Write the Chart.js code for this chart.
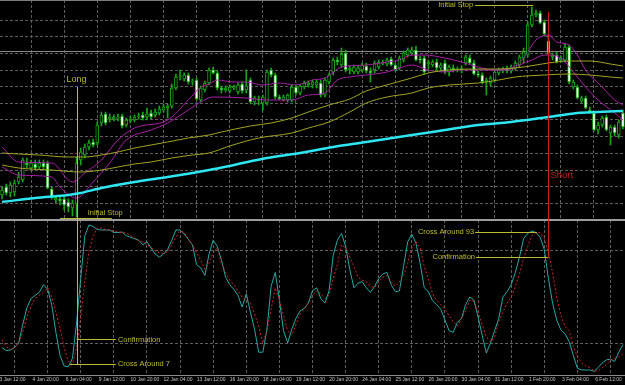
<!DOCTYPE html>
<html>
<head>
<meta charset="utf-8">
<script src="https://cdn.jsdelivr.net/npm/chart.js@4.4.1/dist/chart.umd.min.js"></script>
<style>
  html, body { margin: 0; padding: 0; background: #000; overflow: hidden; }
  #wrap { position: relative; width: 625px; height: 385px; }
  canvas { position: absolute; left: 0; }
  #price { top: 0; }
  #stoch { top: 220px; }
</style>
</head>
<body>
<div id="wrap">
  <canvas id="price" width="625" height="220"></canvas>
  <canvas id="stoch" width="625" height="165"></canvas>
</div>
<script>
// H4 bars, index 0 = first visible bar on the left
const timeLabels = ["3 Jan 12:00", "4 Jan 20:00", "6 Jan 04:00", "9 Jan 12:00", "10 Jan 20:00",
  "12 Jan 04:00", "13 Jan 12:00", "16 Jan 20:00", "18 Jan 04:00", "19 Jan 12:00", "20 Jan 20:00",
  "24 Jan 04:00", "25 Jan 12:00", "26 Jan 20:00", "30 Jan 04:00", "31 Jan 12:00", "1 Feb 20:00",
  "3 Feb 04:00", "6 Feb 12:00"];
const labelBars = [3, 11, 19, 27, 35, 43, 51, 59, 67, 75, 83, 91, 99, 107, 115, 123, 131, 139, 147];
const priceGrid = [1.2850, 1.2900, 1.2950, 1.3000, 1.3050, 1.3100, 1.3150, 1.3200, 1.3250, 1.3300, 1.3350, 1.3400];

const openP = [1.2875,1.2899,1.2881,1.2884,1.2914,1.2920,1.2971,1.2956,1.2968,1.2959,
  1.2971,1.2971,1.2893,1.2860,1.2863,1.2863,1.2854,1.2836,1.2848,1.2980,
  1.2995,1.3019,1.3034,1.3031,1.3091,1.3118,1.3103,1.3103,1.3106,1.3112,
  1.3085,1.3097,1.3100,1.3109,1.3115,1.3109,1.3121,1.3115,1.3121,1.3130,
  1.3136,1.3142,1.3196,1.3229,1.3223,1.3235,1.3214,1.3220,1.3160,1.3190,
  1.3211,1.3250,1.3241,1.3196,1.3190,1.3187,1.3196,1.3184,1.3208,1.3190,
  1.3220,1.3154,1.3163,1.3151,1.3151,1.3250,1.3235,1.3169,1.3160,1.3160,
  1.3160,1.3199,1.3181,1.3199,1.3205,1.3205,1.3205,1.3211,1.3175,1.3214,
  1.3244,1.3280,1.3265,1.3301,1.3250,1.3244,1.3244,1.3250,1.3262,1.3247,
  1.3250,1.3259,1.3271,1.3268,1.3283,1.3265,1.3256,1.3280,1.3295,1.3301,
  1.3310,1.3283,1.3286,1.3268,1.3265,1.3274,1.3256,1.3271,1.3244,1.3256,
  1.3250,1.3247,1.3271,1.3286,1.3271,1.3238,1.3235,1.3214,1.3211,1.3220,
  1.3241,1.3247,1.3256,1.3247,1.3256,1.3265,1.3286,1.3295,1.3385,1.3415,
  1.3421,1.3394,1.3337,1.3289,1.3295,1.3280,1.3280,1.3319,1.3199,1.3199,
  1.3157,1.3166,1.3130,1.3121,1.3070,1.3085,1.3109,1.3061,1.3079,1.3055,
  1.3121];
const highP = [1.2899,1.2908,1.2914,1.2920,1.2944,1.2986,1.2986,1.2980,1.2980,1.2980,
  1.2980,1.2977,1.2899,1.2872,1.2872,1.2869,1.2863,1.2860,1.2989,1.3016,
  1.3028,1.3040,1.3043,1.3094,1.3124,1.3124,1.3118,1.3115,1.3118,1.3118,
  1.3106,1.3112,1.3115,1.3121,1.3124,1.3136,1.3130,1.3133,1.3142,1.3148,
  1.3148,1.3208,1.3238,1.3250,1.3241,1.3241,1.3223,1.3226,1.3202,1.3217,
  1.3256,1.3259,1.3247,1.3202,1.3202,1.3205,1.3205,1.3211,1.3214,1.3250,
  1.3226,1.3172,1.3172,1.3175,1.3250,1.3256,1.3241,1.3175,1.3175,1.3178,
  1.3205,1.3205,1.3208,1.3217,1.3217,1.3220,1.3220,1.3220,1.3226,1.3241,
  1.3286,1.3289,1.3316,1.3310,1.3262,1.3265,1.3262,1.3271,1.3271,1.3256,
  1.3277,1.3280,1.3280,1.3286,1.3289,1.3271,1.3292,1.3307,1.3316,1.3319,
  1.3322,1.3292,1.3292,1.3280,1.3280,1.3283,1.3271,1.3280,1.3265,1.3265,
  1.3259,1.3262,1.3295,1.3295,1.3280,1.3247,1.3241,1.3226,1.3232,1.3250,
  1.3256,1.3259,1.3262,1.3265,1.3277,1.3295,1.3316,1.3394,1.3439,1.3430,
  1.3427,1.3400,1.3355,1.3301,1.3304,1.3292,1.3331,1.3325,1.3220,1.3205,
  1.3172,1.3172,1.3139,1.3127,1.3094,1.3112,1.3115,1.3085,1.3085,1.3100,
  1.3130];
const lowP = [1.2863,1.2875,1.2869,1.2872,1.2908,1.2914,1.2956,1.2950,1.2950,1.2953,
  1.2950,1.2893,1.2863,1.2851,1.2845,1.2830,1.2824,1.2812,1.2809,1.2965,
  1.2986,1.3010,1.3019,1.3025,1.3082,1.3085,1.3094,1.3097,1.3097,1.3076,
  1.3079,1.3091,1.3094,1.3103,1.3100,1.3100,1.3103,1.3109,1.3115,1.3124,
  1.3106,1.3136,1.3190,1.3220,1.3217,1.3208,1.3205,1.3160,1.3154,1.3184,
  1.3205,1.3238,1.3190,1.3181,1.3184,1.3181,1.3190,1.3178,1.3181,1.3181,
  1.3148,1.3145,1.3145,1.3130,1.3145,1.3229,1.3163,1.3160,1.3157,1.3154,
  1.3154,1.3175,1.3175,1.3193,1.3199,1.3196,1.3196,1.3169,1.3169,1.3208,
  1.3235,1.3265,1.3259,1.3244,1.3238,1.3238,1.3238,1.3244,1.3241,1.3214,
  1.3241,1.3253,1.3265,1.3262,1.3262,1.3247,1.3250,1.3274,1.3289,1.3295,
  1.3277,1.3271,1.3238,1.3253,1.3259,1.3250,1.3250,1.3238,1.3232,1.3244,
  1.3244,1.3241,1.3265,1.3268,1.3235,1.3229,1.3208,1.3175,1.3202,1.3214,
  1.3235,1.3241,1.3241,1.3241,1.3250,1.3259,1.3271,1.3289,1.3379,1.3409,
  1.3388,1.3352,1.3295,1.3280,1.3271,1.3274,1.3274,1.3208,1.3193,1.3163,
  1.3151,1.3133,1.3121,1.3067,1.3058,1.3079,1.3067,1.3025,1.3052,1.3046,
  1.3073];
const closeP = [1.2890,1.2881,1.2905,1.2911,1.2929,1.2980,1.2965,1.2971,1.2956,1.2971,
  1.2959,1.2896,1.2869,1.2866,1.2857,1.2845,1.2839,1.2851,1.2971,1.3004,
  1.3019,1.3031,1.3025,1.3085,1.3115,1.3091,1.3109,1.3109,1.3109,1.3082,
  1.3100,1.3103,1.3109,1.3112,1.3106,1.3118,1.3109,1.3124,1.3133,1.3139,
  1.3142,1.3196,1.3229,1.3232,1.3235,1.3214,1.3217,1.3163,1.3196,1.3211,
  1.3250,1.3241,1.3196,1.3190,1.3196,1.3199,1.3199,1.3205,1.3187,1.3202,
  1.3154,1.3166,1.3160,1.3169,1.3244,1.3235,1.3169,1.3163,1.3169,1.3175,
  1.3199,1.3181,1.3202,1.3211,1.3211,1.3214,1.3214,1.3175,1.3220,1.3235,
  1.3280,1.3274,1.3298,1.3250,1.3256,1.3259,1.3256,1.3265,1.3247,1.3241,
  1.3271,1.3274,1.3274,1.3280,1.3265,1.3250,1.3286,1.3301,1.3310,1.3310,
  1.3280,1.3280,1.3244,1.3274,1.3274,1.3256,1.3265,1.3244,1.3259,1.3250,
  1.3253,1.3256,1.3289,1.3271,1.3238,1.3235,1.3214,1.3220,1.3226,1.3244,
  1.3250,1.3253,1.3247,1.3259,1.3271,1.3289,1.3304,1.3385,1.3415,1.3421,
  1.3391,1.3358,1.3301,1.3295,1.3274,1.3286,1.3319,1.3214,1.3214,1.3166,
  1.3166,1.3136,1.3124,1.3070,1.3085,1.3106,1.3070,1.3079,1.3061,1.3094,
  1.3079];

// indicator lines read at [bar, price]
const envFastUp = [[0,1.3019],[4,1.2974],[12,1.2971],[17,1.2914],[20,1.2941],[24,1.2980],[28,1.3040],
  [32,1.3076],[40,1.3100],[45,1.3160],[48,1.3199],[50,1.3208],[52,1.3220],[56,1.3214],[59,1.3214],
  [63,1.3205],[67,1.3211],[71,1.3205],[75,1.3220],[78,1.3226],[82,1.3259],[88,1.3265],[93,1.3274],
  [96,1.3280],[99,1.3295],[102,1.3295],[107,1.3286],[111,1.3274],[115,1.3259],[119,1.3250],[123,1.3256],
  [126,1.3286],[129,1.3340],[132,1.3355],[134,1.3334],[137,1.3325],[139,1.3295],[141,1.3250],[145,1.3199],
  [148,1.3160],[150,1.3145]];
const envFastLo = [[0,1.2959],[4,1.2935],[12,1.2929],[14,1.2899],[18,1.2866],[22,1.2914],[26,1.2971],
  [30,1.3040],[36,1.3070],[40,1.3091],[45,1.3130],[48,1.3154],[51,1.3169],[59,1.3166],[64,1.3160],
  [70,1.3160],[74,1.3175],[78,1.3181],[81,1.3220],[84,1.3229],[88,1.3235],[93,1.3244],[96,1.3256],
  [99,1.3265],[103,1.3250],[107,1.3244],[111,1.3250],[115,1.3250],[120,1.3250],[123,1.3250],[125,1.3265],
  [128,1.3280],[131,1.3295],[133,1.3295],[136,1.3274],[138,1.3244],[141,1.3199],[144,1.3160],[148,1.3121],
  [150,1.3100]];
const envSlowUp = [[0,1.3001],[4,1.2998],[9,1.2995],[16,1.2989],[20,1.2989],[24,1.2995],[28,1.3004],
  [32,1.3016],[36,1.3025],[40,1.3034],[45,1.3046],[50,1.3055],[53,1.3064],[60,1.3082],[65,1.3091],
  [70,1.3106],[74,1.3124],[79,1.3145],[84,1.3163],[88,1.3187],[92,1.3202],[99,1.3226],[103,1.3241],
  [108,1.3250],[115,1.3253],[120,1.3253],[124,1.3256],[129,1.3265],[132,1.3271],[137,1.3277],[142,1.3277],
  [147,1.3268],[150,1.3262]];
const envSlowLo = [[0,1.2965],[4,1.2956],[12,1.2950],[19,1.2944],[24,1.2950],[28,1.2959],[32,1.2968],
  [36,1.2974],[41,1.2986],[46,1.2995],[50,1.3001],[55,1.3022],[62,1.3046],[70,1.3061],[74,1.3076],
  [79,1.3094],[84,1.3124],[88,1.3151],[93,1.3169],[99,1.3181],[103,1.3196],[108,1.3205],[115,1.3211],
  [120,1.3220],[124,1.3229],[131,1.3235],[137,1.3238],[142,1.3235],[147,1.3229],[150,1.3226]];
const longMA = [[0,1.2854],[8,1.2866],[16,1.2875],[19,1.2881],[24,1.2896],[32,1.2914],[40,1.2929],
  [50,1.2950],[56,1.2965],[64,1.2986],[72,1.3001],[80,1.3019],[88,1.3034],[99,1.3055],[107,1.3070],
  [115,1.3085],[123,1.3094],[132,1.3109],[139,1.3121],[144,1.3124],[150,1.3127]];

const stochMain = [17,15,15.5,17,20,32,43,49,51,53,
  58,55,45,27,12,5,4.5,10,33,62,
  90,97,96,94,93.7,93.7,93.7,92,92,92.4,
  90,89,88,87,84,86,82,78,76,78,
  81,87,93.7,93.7,91,87.6,84,71,69,64,
  78,87,83,74,63,58,55,51,43.5,52,
  40,29,14,14,29,57,66,48,28,20,
  29,36,41,42.5,46,54,56,49,46,54,
  77,87,91.5,83,68,56,59,60,56,53,
  57,62,65,66,58,53.5,54,70,86,91,
  85,72,56,53.5,47.5,45,42,35,28,27,
  33.5,36,45,50,48,37,25,13.5,20,28,
  36,50,53.5,58,66,76,88,91.5,93,92,
  89,81,62,46,35,28.5,26,21,12,3.5,
  2.5,2.4,2.4,1.5,4,7,9,9.5,8,14,
  19];
const stochSignal = [22,18,15.5,17,20,27,37,44,49,51,
  53,56,50,40,30,17,8,6,17,36,
  60,80,90,95,95,94,93.7,93,92.4,92,
  91.8,90,88.5,87,86,84,82.6,80,78.7,78.5,
  79.5,84,89,93,92,88,84,79,74,68,
  72,79,82,72,66,61,58,54,50,48,
  46,39,31,20,28,42,56,48,38,28,
  25,32,39,42,46,51,54,52,49,51,
  62,71,84,82,76,70,63,61,60,57,
  56,60,63,64,60,57,60,64,72,82,
  86,82,70,62,52,48,45,42,38,34,
  31,36,41,48,47,40,32,24,20.7,24,
  34,40,46,50,57,65,75,83,90,92,
  92,88,79,66,50,38,31,28,18,11,
  7,5,4,2,1.5,4,6,9,10,11,
  13];

// chart objects (bar index / price / stochastic level)
const bidLevel = 1.3306;
const longBar = 18, longTop = 1.3199, longText = 1.3220;
const shortBar = 132, shortTop = 1.3424, shortText = 1.2935;
const stopLow = 1.2806, stopLowText = 1.2821, stopLowFrom = 14, stopLowTo = 26.5, stopLowTextBar = 20.7;
const stopHigh = 1.3445, stopHighFrom = 114.3, stopHighTo = 128.3;
const crossLow = 6.1, confirmLow = 22.3, lowFrom = 16.4, lowTo = 27.5;
const crossHigh = 92.4, crossHighFrom = 114.3, crossHighTo = 129.2;
const confirmHigh = 75.8, confirmHighFrom = 114.5;

const candleGreen = "#14a814";
const gridColor = "#5e5e5e";
const yellow = "#bcbc30";
const red = "#d21c1c";

Chart.defaults.font.family = "'Liberation Sans', Arial, sans-serif";

const bars = openP.map((v, i) => i);
const pairs = (arr) => arr.map(p => ({ x: p[0], y: p[1] }));

function hline(ctx, x1, x2, y, color) {
  ctx.strokeStyle = color;
  ctx.lineWidth = 1;
  ctx.setLineDash([]);
  ctx.beginPath();
  ctx.moveTo(x1, Math.round(y) + 0.5);
  ctx.lineTo(x2, Math.round(y) + 0.5);
  ctx.stroke();
}
function vline(ctx, x, y1, y2, color) {
  ctx.strokeStyle = color;
  ctx.lineWidth = 1;
  ctx.setLineDash([]);
  ctx.beginPath();
  ctx.moveTo(Math.round(x) + 0.5, y1);
  ctx.lineTo(Math.round(x) + 0.5, y2);
  ctx.stroke();
}
function label(ctx, text, x, y, color, size, align) {
  ctx.fillStyle = color;
  ctx.font = size + "px 'Liberation Sans', Arial, sans-serif";
  ctx.textAlign = align;
  ctx.textBaseline = "middle";
  ctx.fillText(text, x, y);
}

const priceMarks = {
  id: "priceMarks",
  beforeDatasetsDraw(chart) {
    const { ctx, scales: { y }, width } = chart;
    ctx.save();
    hline(ctx, 0, width, y.getPixelForValue(bidLevel), "#888888");
    ctx.restore();
  },
  afterDatasetsDraw(chart) {
    const { ctx, scales: { x, y }, width, height } = chart;
    ctx.save();
    // panel borders
    ctx.fillStyle = "#7c7c7c";
    ctx.fillRect(0, 0, width, 1);
    ctx.fillStyle = "#9c9c9c";
    ctx.fillRect(0, height - 1, width, 1);

    // long entry
    const lx = x.getPixelForValue(longBar);
    vline(ctx, lx, y.getPixelForValue(longTop), height, yellow);
    label(ctx, "Long", lx, y.getPixelForValue(longText), yellow, 9, "center");

    // initial stops
    hline(ctx, x.getPixelForValue(stopLowFrom), x.getPixelForValue(stopLowTo), y.getPixelForValue(stopLow), yellow);
    label(ctx, "Initial Stop", x.getPixelForValue(stopLowTextBar), y.getPixelForValue(stopLowText), yellow, 7.5, "left");
    hline(ctx, x.getPixelForValue(stopHighFrom), x.getPixelForValue(stopHighTo), y.getPixelForValue(stopHigh), yellow);
    label(ctx, "Initial Stop", x.getPixelForValue(stopHighFrom) - 2, y.getPixelForValue(stopHigh), yellow, 7.5, "right");

    // short entry
    const sx = x.getPixelForValue(shortBar);
    vline(ctx, sx, y.getPixelForValue(shortTop), height, red);
    label(ctx, "Short", sx + 2, y.getPixelForValue(shortText), red, 9.5, "left");
    ctx.restore();
  }
};

const stochMarks = {
  id: "stochMarks",
  afterDatasetsDraw(chart) {
    const { ctx, scales: { x, y }, width, chartArea } = chart;
    ctx.save();
    ctx.fillStyle = "#9c9c9c";
    ctx.fillRect(0, 0, width, 1);
    ctx.fillStyle = "#8a8a8a";
    ctx.fillRect(0, chartArea.bottom, width, 1);

    const lx = x.getPixelForValue(longBar);
    vline(ctx, lx, 0, y.getPixelForValue(crossLow), yellow);
    hline(ctx, lx, x.getPixelForValue(lowTo), y.getPixelForValue(confirmLow), yellow);
    hline(ctx, x.getPixelForValue(lowFrom), x.getPixelForValue(lowTo), y.getPixelForValue(crossLow), yellow);
    label(ctx, "Confirmation", x.getPixelForValue(lowTo) + 2, y.getPixelForValue(confirmLow), yellow, 7.5, "left");
    label(ctx, "Cross Around 7", x.getPixelForValue(lowTo) + 2, y.getPixelForValue(crossLow), yellow, 7.5, "left");

    const sx = x.getPixelForValue(shortBar);
    hline(ctx, x.getPixelForValue(crossHighFrom), x.getPixelForValue(crossHighTo), y.getPixelForValue(crossHigh), yellow);
    label(ctx, "Cross Around 93", x.getPixelForValue(crossHighFrom) - 1, y.getPixelForValue(crossHigh), yellow, 7.5, "right");
    hline(ctx, x.getPixelForValue(confirmHighFrom), sx, y.getPixelForValue(confirmHigh), yellow);
    label(ctx, "Confirmation", x.getPixelForValue(confirmHighFrom) - 1, y.getPixelForValue(confirmHigh), yellow, 7.5, "right");
    vline(ctx, sx, 0, y.getPixelForValue(confirmHigh), red);
    ctx.restore();
  }
};

const noSize = (dim) => (s) => { s[dim] = 0; s.paddingLeft = 0; s.paddingRight = 0; s.paddingTop = 0; s.paddingBottom = 0; };

const xGrid = {
  type: "linear", min: -0.5, max: 150.5, offset: false, bounds: "data",
  afterBuildTicks: (s) => { s.ticks = labelBars.map(v => ({ value: v })); },
  grid: { color: gridColor, drawTicks: false },
  border: { display: false, dash: [3, 2] }
};

new Chart(document.getElementById("price"), {
  type: "bar",
  data: {
    datasets: [
      {
        type: "bar", order: 3, grouped: false, barThickness: 1,
        data: bars.map(i => ({ x: i, y: [lowP[i], highP[i]] })),
        backgroundColor: candleGreen
      },
      {
        type: "bar", order: 2, grouped: false, barThickness: 3,
        data: bars.map(i => ({ x: i, y: [openP[i], closeP[i]] })),
        backgroundColor: bars.map(i => closeP[i] >= openP[i] ? "#000000" : "#ffffff"),
        borderColor: candleGreen, borderWidth: 1, borderSkipped: false
      },
      { type: "line", order: 1, data: pairs(longMA), borderColor: "#2ee6f2", borderWidth: 2.5,
        pointRadius: 0, cubicInterpolationMode: "monotone" },
      { type: "line", order: 1, data: pairs(envSlowUp), borderColor: "#a3a324", borderWidth: 1,
        pointRadius: 0, cubicInterpolationMode: "monotone" },
      { type: "line", order: 1, data: pairs(envSlowLo), borderColor: "#a3a324", borderWidth: 1,
        pointRadius: 0, cubicInterpolationMode: "monotone" },
      { type: "line", order: 1, data: pairs(envFastUp), borderColor: "#a81ea8", borderWidth: 1,
        pointRadius: 0, cubicInterpolationMode: "monotone" },
      { type: "line", order: 1, data: pairs(envFastLo), borderColor: "#a81ea8", borderWidth: 1,
        pointRadius: 0, cubicInterpolationMode: "monotone" }
    ]
  },
  options: {
    responsive: false, devicePixelRatio: 1, animation: false, events: [],
    layout: { padding: 0 },
    plugins: { legend: { display: false }, tooltip: { enabled: false } },
    scales: {
      x: Object.assign({}, xGrid, { ticks: { display: false }, afterFit: noSize("height") }),
      y: {
        type: "linear", min: 1.2800, max: 1.3460, bounds: "data",
        afterBuildTicks: (s) => { s.ticks = priceGrid.map(v => ({ value: v })); },
        ticks: { display: false },
        grid: { color: gridColor, drawTicks: false },
        border: { display: false, dash: [3, 2] },
        afterFit: noSize("width")
      }
    }
  },
  plugins: [priceMarks]
});

new Chart(document.getElementById("stoch"), {
  type: "line",
  data: {
    datasets: [
      { data: bars.map(i => ({ x: i, y: stochSignal[i] })), borderColor: "#d42424", borderWidth: 1,
        borderDash: [2, 2], pointRadius: 0, tension: 0 },
      { data: bars.map(i => ({ x: i, y: stochMain[i] })), borderColor: "#26a8a4", borderWidth: 1,
        pointRadius: 0, tension: 0 }
    ]
  },
  options: {
    responsive: false, devicePixelRatio: 1, animation: false, events: [],
    layout: { padding: 0 },
    plugins: { legend: { display: false }, tooltip: { enabled: false } },
    scales: {
      x: Object.assign({}, xGrid, {
        ticks: {
          autoSkip: false, maxRotation: 0, padding: 2, labelOffset: -2,
          color: "#c4c4c4", font: { size: 5 },
          callback: (v, i) => timeLabels[i]
        },
        afterFit: (s) => { s.height = 10; s.paddingLeft = 0; s.paddingRight = 0; }
      }),
      y: {
        type: "linear", min: -0.85, max: 100.2, bounds: "data",
        afterBuildTicks: (s) => { s.ticks = [20, 80].map(v => ({ value: v })); },
        ticks: { display: false },
        grid: { color: gridColor, drawTicks: false },
        border: { display: false, dash: [3, 2] },
        afterFit: noSize("width")
      }
    }
  },
  plugins: [stochMarks]
});
</script>
</body>
</html>
